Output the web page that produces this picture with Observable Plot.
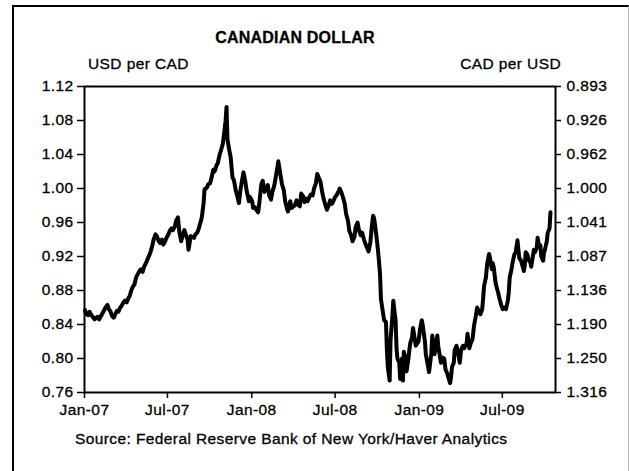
<!DOCTYPE html>
<html>
<head>
<meta charset="utf-8">
<script src="https://cdn.jsdelivr.net/npm/d3@7"></script>
<script src="https://cdn.jsdelivr.net/npm/@observablehq/plot@0.6"></script>
<style>
  html, body { margin: 0; padding: 0; background: #fff; }
  body { width: 629px; height: 471px; position: relative; overflow: hidden; font-family: "Liberation Sans", Arial, sans-serif; color: #000; }
  #border { position: absolute; left: 12px; top: 5px; width: 614px; height: 500px; border-left: 2px solid #000; border-top: 2px solid #000; border-right: 1px solid #bbb; }
  #chart { position: absolute; left: 0; top: 0; }
  #chart svg text { stroke: #000; stroke-width: 0.3px; letter-spacing: 0.4px; }
  .txt { position: absolute; white-space: nowrap; line-height: 1; -webkit-text-stroke: 0.3px #000; letter-spacing: 0.4px; }
  #title { left: 0; width: 590px; text-align: center; top: 30px; font-weight: bold; font-size: 16px; letter-spacing: 0.2px; }
  #ylab { left: 88px; top: 56px; font-size: 15.5px; }
  #ylab2 { right: 68px; top: 56px; font-size: 15.5px; }
  #source { left: 75px; top: 431px; font-size: 15.5px; }
</style>
</head>
<body>
<div id="border"></div>
<div id="chart"></div>
<div class="txt" id="title">CANADIAN DOLLAR</div>
<div class="txt" id="ylab">USD per CAD</div>
<div class="txt" id="ylab2">CAD per USD</div>
<div class="txt" id="source">Source: Federal Reserve Bank of New York/Haver Analytics</div>
<script>
const dates = [
"2007-01-02","2007-01-05","2007-01-09","2007-01-12","2007-01-16","2007-01-19","2007-01-23","2007-01-26","2007-01-30",
"2007-02-02","2007-02-06","2007-02-09","2007-02-13","2007-02-16","2007-02-20","2007-02-23","2007-02-27",
"2007-03-02","2007-03-06","2007-03-09","2007-03-13","2007-03-16","2007-03-20","2007-03-23","2007-03-27","2007-03-30",
"2007-04-03","2007-04-06","2007-04-10","2007-04-13","2007-04-17","2007-04-20","2007-04-24","2007-04-27",
"2007-05-01","2007-05-04","2007-05-08","2007-05-11","2007-05-15","2007-05-18","2007-05-22","2007-05-25","2007-05-29",
"2007-06-01","2007-06-05","2007-06-08","2007-06-12","2007-06-15","2007-06-19","2007-06-22","2007-06-26","2007-06-29",
"2007-07-03","2007-07-06","2007-07-10","2007-07-13","2007-07-17","2007-07-20","2007-07-24","2007-07-27","2007-07-31",
"2007-08-03","2007-08-07","2007-08-10","2007-08-14","2007-08-16","2007-08-21","2007-08-24","2007-08-28","2007-08-31",
"2007-09-04","2007-09-07","2007-09-11","2007-09-14","2007-09-18","2007-09-20","2007-09-25","2007-09-28",
"2007-10-02","2007-10-05","2007-10-09","2007-10-12","2007-10-16","2007-10-19","2007-10-23","2007-10-26","2007-10-30",
"2007-11-02","2007-11-05","2007-11-07","2007-11-09","2007-11-13","2007-11-16","2007-11-20","2007-11-23","2007-11-27","2007-11-30",
"2007-12-04","2007-12-07","2007-12-11","2007-12-14","2007-12-18","2007-12-21","2007-12-26","2007-12-28",
"2008-01-02","2008-01-04","2008-01-08","2008-01-11","2008-01-15","2008-01-18","2008-01-22","2008-01-25","2008-01-29",
"2008-02-01","2008-02-05","2008-02-08","2008-02-12","2008-02-15","2008-02-19","2008-02-22","2008-02-26","2008-02-28",
"2008-03-04","2008-03-07","2008-03-11","2008-03-14","2008-03-18","2008-03-20","2008-03-25","2008-03-28",
"2008-04-01","2008-04-04","2008-04-08","2008-04-11","2008-04-15","2008-04-18","2008-04-22","2008-04-25","2008-04-29",
"2008-05-02","2008-05-06","2008-05-09","2008-05-13","2008-05-16","2008-05-20","2008-05-23","2008-05-27","2008-05-30",
"2008-06-03","2008-06-06","2008-06-10","2008-06-13","2008-06-17","2008-06-20","2008-06-24","2008-06-27",
"2008-07-01","2008-07-04","2008-07-08","2008-07-11","2008-07-15","2008-07-18","2008-07-22","2008-07-25","2008-07-29",
"2008-08-01","2008-08-05","2008-08-08","2008-08-12","2008-08-15","2008-08-19","2008-08-22","2008-08-26","2008-08-29",
"2008-09-02","2008-09-05","2008-09-09","2008-09-12","2008-09-16","2008-09-19","2008-09-22","2008-09-24","2008-09-26","2008-09-30",
"2008-10-03","2008-10-07","2008-10-09","2008-10-14","2008-10-16","2008-10-20","2008-10-22","2008-10-24","2008-10-28","2008-10-30",
"2008-11-03","2008-11-05","2008-11-07","2008-11-10","2008-11-12","2008-11-14","2008-11-18","2008-11-20","2008-11-24","2008-11-26","2008-11-28",
"2008-12-02","2008-12-04","2008-12-08","2008-12-10","2008-12-12","2008-12-16","2008-12-18","2008-12-22","2008-12-24","2008-12-30",
"2009-01-02","2009-01-06","2009-01-08","2009-01-13","2009-01-15","2009-01-20","2009-01-22","2009-01-27","2009-01-29",
"2009-02-03","2009-02-05","2009-02-09","2009-02-11","2009-02-13","2009-02-17","2009-02-20","2009-02-24","2009-02-27",
"2009-03-03","2009-03-05","2009-03-09","2009-03-11","2009-03-13","2009-03-17","2009-03-19","2009-03-23","2009-03-26","2009-03-30",
"2009-04-02","2009-04-06","2009-04-09","2009-04-14","2009-04-16","2009-04-20","2009-04-23","2009-04-27","2009-04-30",
"2009-05-04","2009-05-07","2009-05-11","2009-05-14","2009-05-18","2009-05-20","2009-05-22","2009-05-26","2009-05-29",
"2009-06-02","2009-06-04","2009-06-08","2009-06-10","2009-06-12","2009-06-16","2009-06-18","2009-06-22","2009-06-25","2009-06-29",
"2009-07-02","2009-07-06","2009-07-09","2009-07-13","2009-07-15","2009-07-17","2009-07-21","2009-07-23","2009-07-27","2009-07-30",
"2009-08-03","2009-08-05","2009-08-07","2009-08-11","2009-08-13","2009-08-17","2009-08-19","2009-08-21","2009-08-25","2009-08-27","2009-08-31",
"2009-09-02","2009-09-04","2009-09-08","2009-09-10","2009-09-14","2009-09-16","2009-09-18","2009-09-22","2009-09-24","2009-09-28","2009-09-30",
"2009-10-02","2009-10-06","2009-10-08","2009-10-12","2009-10-14"
];
const usdPerCad = [
0.857,0.852,0.851,0.855,0.851,0.849,0.846,0.848,0.849,
0.846,0.850,0.853,0.857,0.860,0.863,0.858,0.855,
0.850,0.848,0.852,0.856,0.855,0.860,0.862,0.866,0.868,
0.866,0.870,0.874,0.880,0.885,0.887,0.896,0.899,
0.903,0.905,0.902,0.908,0.912,0.916,0.921,0.925,0.933,
0.940,0.946,0.944,0.938,0.936,0.940,0.934,0.938,0.942,
0.946,0.950,0.953,0.951,0.955,0.962,0.966,0.949,0.938,
0.944,0.951,0.946,0.940,0.928,0.944,0.943,0.942,0.946,
0.948,0.952,0.960,0.966,0.983,0.999,1.001,1.005,
1.006,1.012,1.022,1.020,1.027,1.030,1.040,1.045,1.053,
1.066,1.080,1.096,1.058,1.045,1.037,1.013,1.010,0.998,0.992,
0.983,0.997,1.010,1.019,1.008,0.997,0.985,0.990,
0.985,0.977,0.978,0.975,0.972,0.985,1.005,1.009,0.996,
0.999,1.004,0.992,0.987,0.996,1.003,1.012,1.025,1.032,
1.015,1.005,0.998,0.985,0.976,0.973,0.985,0.977,
0.979,0.980,0.986,0.981,0.979,0.994,0.991,0.984,0.988,
0.985,0.990,0.993,0.992,1.000,1.006,1.017,1.012,1.008,
0.995,0.988,0.980,0.975,0.980,0.986,0.982,0.985,
0.990,0.992,0.996,1.000,0.995,0.990,0.982,0.970,0.962,
0.950,0.945,0.938,0.943,0.955,0.960,0.951,0.945,0.948,
0.940,0.935,0.930,0.926,0.937,0.955,0.968,0.965,0.958,0.940,
0.925,0.900,0.870,0.852,0.845,0.843,0.810,0.790,0.774,0.822,
0.850,0.868,0.858,0.845,0.812,0.800,0.795,0.776,0.800,0.774,0.808,
0.798,0.785,0.800,0.810,0.818,0.825,0.836,0.822,0.815,0.820,
0.833,0.845,0.840,0.820,0.805,0.790,0.784,0.806,0.827,
0.805,0.812,0.827,0.815,0.808,0.795,0.801,0.800,0.787,
0.782,0.778,0.771,0.778,0.790,0.795,0.810,0.815,0.808,0.795,
0.810,0.815,0.812,0.818,0.829,0.812,0.818,0.823,0.838,
0.850,0.860,0.855,0.852,0.858,0.870,0.885,0.895,0.912,
0.923,0.918,0.905,0.912,0.908,0.890,0.885,0.877,0.870,0.862,
0.858,0.860,0.858,0.868,0.878,0.895,0.905,0.912,0.922,0.925,
0.939,0.928,0.918,0.915,0.911,0.903,0.910,0.925,0.922,0.916,0.913,
0.908,0.915,0.928,0.925,0.930,0.942,0.935,0.933,0.920,0.915,0.925,
0.928,0.938,0.948,0.953,0.972
];
const yTicks = [0.76, 0.80, 0.84, 0.88, 0.92, 0.96, 1.00, 1.04, 1.08, 1.12];
const leftTickLabels = ["0.76","0.80","0.84","0.88","0.92","0.96","1.00","1.04","1.08","1.12"];
const rightTickLabels = ["1.316","1.250","1.190","1.136","1.087","1.041","1.000","0.962","0.926","0.893"];
const xTickLabels = ["Jan-07","Jul-07","Jan-08","Jul-08","Jan-09","Jul-09"];
const xTickDates = ["2007-01-01","2007-07-01","2008-01-01","2008-07-01","2009-01-01","2009-07-01"];

const parse = d3.utcParse("%Y-%m-%d");
const data = dates.map((d, i) => ({date: parse(d), value: usdPerCad[i]}));
const xTicks = xTickDates.map(parse);
const labelOf = new Map(xTicks.map((d, i) => [+d, xTickLabels[i]]));
const leftOf = new Map(yTicks.map((d, i) => [d, leftTickLabels[i]]));
const rightOf = new Map(yTicks.map((d, i) => [d, rightTickLabels[i]]));

const chart = Plot.plot({
  width: 629,
  height: 420,
  marginTop: 86,
  marginBottom: 28,
  marginLeft: 84,
  marginRight: 74,
  style: {fontFamily: "'Liberation Sans', Arial, sans-serif", fontSize: "15.5px", color: "#000", background: "transparent", overflow: "visible"},
  x: {type: "utc", domain: [parse("2007-01-01"), parse("2009-10-25")]},
  y: {domain: [0.76, 1.12]},
  marks: [
    Plot.axisY({ticks: yTicks, tickFormat: d => leftOf.get(d), anchor: "left", tickSize: 7, tickPadding: 4, strokeWidth: 1.5, label: null}),
    Plot.axisY({ticks: yTicks, tickFormat: d => rightOf.get(d), anchor: "right", tickSize: 5, tickPadding: 6, strokeWidth: 1.5, label: null}),
    Plot.axisX({ticks: xTicks, tickFormat: d => labelOf.get(+d), tickSize: 6, tickPadding: 5, strokeWidth: 1.5, label: null}),
    Plot.frame({stroke: "#000", strokeWidth: 2}),
    Plot.line(data, {x: "date", y: "value", stroke: "#000", strokeWidth: 4, strokeLinejoin: "round", strokeLinecap: "round"})
  ]
});
document.getElementById("chart").appendChild(chart);
</script>
</body>
</html>
